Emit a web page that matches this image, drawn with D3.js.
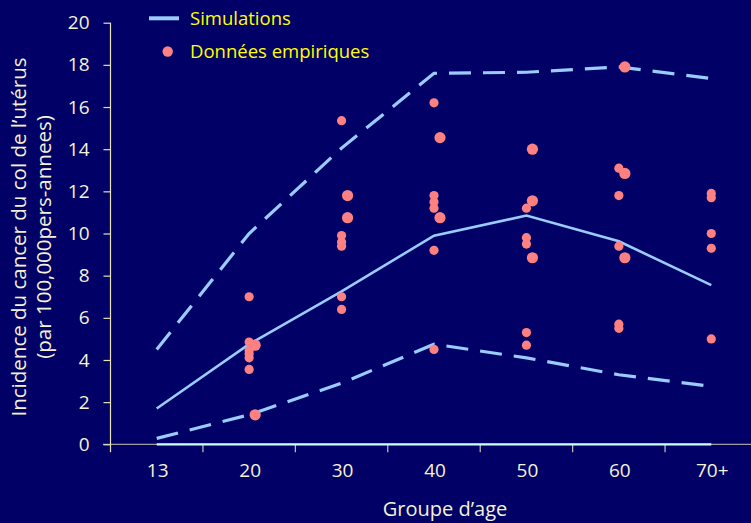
<!DOCTYPE html>
<html>
<head>
<meta charset="utf-8">
<script src="https://cdn.jsdelivr.net/npm/d3@7"></script>
<style>
  html, body { margin: 0; padding: 0; background: #000066; overflow: hidden; }
  #chart { width: 751px; height: 523px; }
  text { font-family: "Open Sans", "DejaVu Sans", sans-serif; }
</style>
</head>
<body>
<div id="chart"></div>
<script>
// age groups and y ticks
const groups = ['13', '20', '30', '40', '50', '60', '70+'];
const yTicks = [0, 2, 4, 6, 8, 10, 12, 14, 16, 18, 20];

// simulation results (mean + bounds)
const simMean  = [1.7, 4.75, 7.25, 9.9, 10.85, 9.63, 7.55];
const simUpper = [4.5, 10.0, 14.05, 17.6, 17.65, 17.9, 17.35];
const simLower = [0.28, 1.4, 2.9, 4.75, 4.1, 3.3, 2.75];
const simZero  = [0, 0, 0, 0, 0, 0, 0];

// empirical data, centred points
const empirical = [
  ['20', 7.0], ['20', 4.85], ['20', 4.45], ['20', 4.3], ['20', 4.1], ['20', 3.55],
  ['30', 15.35], ['30', 9.9], ['30', 9.6], ['30', 9.4], ['30', 7.0], ['30', 6.4],
  ['40', 16.2], ['40', 11.8], ['40', 11.5], ['40', 11.2], ['40', 9.2], ['40', 4.5],
  ['50', 11.2], ['50', 9.8], ['50', 9.5], ['50', 5.3], ['50', 4.7],
  ['60', 13.1], ['60', 11.8], ['60', 9.4], ['60', 5.7], ['60', 5.5],
  ['70+', 11.9], ['70+', 11.7], ['70+', 10.0], ['70+', 9.3], ['70+', 5.0]
];
// empirical data from a second source (drawn slightly right)
const empirical2 = [
  ['20', 4.7], ['20', 1.4],
  ['30', 11.8], ['30', 10.75],
  ['40', 14.55], ['40', 10.75],
  ['50', 14.0], ['50', 11.55], ['50', 8.85],
  ['60', 17.9], ['60', 12.85], ['60', 8.85]
];

const div = d3.select('#chart');
const width = 751;
const height = 523;

const svg = div.append('svg')
  .attr('width', width)
  .attr('height', height);

svg.append('rect')
  .attr('width', width)
  .attr('height', height)
  .attr('fill', '#000066');

const margin = {top: 22.7, left: 110.5};
const innerWidth = 647;
const innerHeight = 421.6;

const xScale = d3.scaleBand()
  .domain(groups)
  .range([0, innerWidth]);

const yScale = d3.scaleLinear()
  .domain([0, 20])
  .range([innerHeight, 0]);

const xMid = d => xScale(d) + xScale.bandwidth() / 2;

const g = svg.append('g')
  .attr('transform', `translate(${margin.left}, ${margin.top})`);

// x axis
const xAxisG = g.append('g')
  .attr('transform', `translate(0, ${innerHeight})`)
  .call(d3.axisBottom(xScale)
    .tickSize(0)
    .tickPadding(19));
xAxisG.select('.domain').remove();
xAxisG.selectAll('text')
  .attr('font-size', 19)
  .attr('fill', '#f6f2d6')
  .attr('dx', 1);

g.append('line')
  .attr('x1', -7.5).attr('x2', width - margin.left)
  .attr('y1', innerHeight).attr('y2', innerHeight)
  .attr('stroke', '#a0a0a0')
  .attr('stroke-width', 1.2);

g.selectAll('.xtick')
  .data(groups.slice(1))
  .enter().append('line')
  .attr('class', 'xtick')
  .attr('x1', d => xScale(d)).attr('x2', d => xScale(d))
  .attr('y1', innerHeight).attr('y2', innerHeight + 8)
  .attr('stroke', '#c8c4b0')
  .attr('stroke-width', 1.2);

// y axis
const yAxisG = g.append('g')
  .call(d3.axisLeft(yScale)
    .tickValues(yTicks)
    .tickSize(7)
    .tickPadding(14));
yAxisG.select('.domain').remove();
yAxisG.selectAll('line')
  .attr('stroke', '#e8e2b8')
  .attr('stroke-width', 1.2);
yAxisG.selectAll('text')
  .attr('font-size', 19)
  .attr('fill', '#f6f2d6');

g.append('line')
  .attr('x1', 0).attr('x2', 0)
  .attr('y1', 0).attr('y2', innerHeight + 8)
  .attr('stroke', '#e8e2b8')
  .attr('stroke-width', 1.2);

// simulation lines
const lineGenerator = d3.line()
  .x((d, i) => xMid(groups[i]))
  .y(d => yScale(d));

g.append('path')
  .attr('d', lineGenerator(simZero))
  .attr('fill', 'none')
  .attr('stroke', '#ccffff')
  .attr('stroke-width', 2.2);

[simUpper, simLower].forEach(s => {
  g.append('path')
    .attr('d', lineGenerator(s))
    .attr('fill', 'none')
    .attr('stroke', '#99ccff')
    .attr('stroke-width', 3.2)
    .attr('stroke-dasharray', '22 12');
});

g.append('path')
  .attr('d', lineGenerator(simMean))
  .attr('fill', 'none')
  .attr('stroke', '#99ccff')
  .attr('stroke-width', 2.6);

// empirical points
g.selectAll('.emp')
  .data(empirical)
  .enter().append('circle')
  .attr('class', 'emp')
  .attr('cx', d => xMid(d[0]))
  .attr('cy', d => yScale(d[1]))
  .attr('r', 4.6)
  .attr('fill', '#ff8080');

g.selectAll('.emp2')
  .data(empirical2)
  .enter().append('circle')
  .attr('class', 'emp2')
  .attr('cx', d => xMid(d[0]) + 6)
  .attr('cy', d => yScale(d[1]))
  .attr('r', 5.6)
  .attr('fill', '#ff8080');

// axis titles
svg.append('text')
  .attr('x', 445)
  .attr('y', 516)
  .attr('text-anchor', 'middle')
  .attr('font-size', 20)
  .attr('fill', '#f6f2d6')
  .text('Groupe d’age');

const yTitle = svg.append('text')
  .attr('transform', 'translate(0, 237) rotate(-90)')
  .attr('text-anchor', 'middle')
  .attr('font-size', 20.5)
  .attr('fill', '#f6f2d6');
yTitle.append('tspan').attr('x', 0).attr('y', 26)
  .text('Incidence du cancer du col de l’utérus');
yTitle.append('tspan').attr('x', 0).attr('y', 51)
  .text('(par 100,000pers-annees)');

// legend
const legend = svg.append('g');
legend.append('line')
  .attr('x1', 149).attr('x2', 179)
  .attr('y1', 18.3).attr('y2', 18.3)
  .attr('stroke', '#99ccff')
  .attr('stroke-width', 4);
legend.append('text')
  .attr('x', 190).attr('y', 24.5)
  .attr('font-size', 18.5)
  .attr('fill', '#ffff00')
  .text('Simulations');
legend.append('circle')
  .attr('cx', 167.7).attr('cy', 51.5)
  .attr('r', 5.2)
  .attr('fill', '#ff8080');
legend.append('text')
  .attr('x', 190).attr('y', 57.5)
  .attr('font-size', 18.5)
  .attr('fill', '#ffff00')
  .text('Données empiriques');
</script>
</body>
</html>
